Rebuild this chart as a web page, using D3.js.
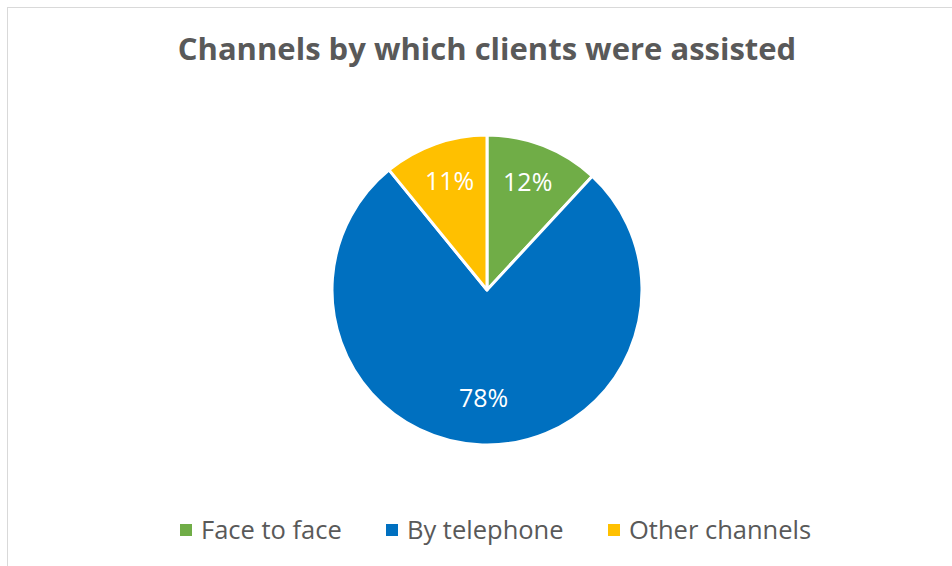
<!DOCTYPE html>
<html>
<head>
<meta charset="utf-8">
<script src="https://cdn.jsdelivr.net/npm/d3@7"></script>
<style>
  html, body { margin: 0; padding: 0; background: #fff; }
  svg { display: block; }
</style>
</head>
<body>
<svg id="chart" width="952" height="566"></svg>
<script>
// Share of clients by assistance channel (percent)
const categories = ["Face to face", "By telephone", "Other channels"];
const shares = [12, 78, 11];
const colors = ["#70AD47", "#0070C0", "#FFC000"];
const title = "Channels by which clients were assisted";

const W = 952, H = 566;
const font = "'Open Sans', Lato, sans-serif";
const svg = d3.select("#chart");

// chart area frame
svg.append("rect")
  .attr("x", 7.5).attr("y", 7.5)
  .attr("width", W + 10).attr("height", H + 10)
  .attr("fill", "#fff").attr("stroke", "#D9D9D9").attr("stroke-width", 1);

svg.append("text")
  .attr("x", 487).attr("y", 60)
  .attr("text-anchor", "middle")
  .attr("font-family", font).attr("font-weight", "bold")
  .attr("font-size", 31).attr("fill", "#595959")
  .text(title);

const cx = 487, cy = 290, R = 155;
const pie = d3.pie().sort(null).value(d => d);
const arcs = pie(shares);
const arc = d3.arc().innerRadius(0).outerRadius(R);
const labelArc = d3.arc().innerRadius(R * 0.72).outerRadius(R * 0.72);

const g = svg.append("g").attr("transform", `translate(${cx},${cy})`);
g.selectAll("path.slice").data(arcs).join("path")
  .attr("class", "slice")
  .attr("d", arc)
  .attr("fill", (d, i) => colors[i])
  .attr("stroke", "#fff").attr("stroke-width", 3).attr("stroke-linejoin", "round");

g.selectAll("text.lbl").data(arcs).join("text")
  .attr("class", "lbl")
  .attr("transform", d => `translate(${labelArc.centroid(d)})`)
  .attr("text-anchor", "middle").attr("dy", "0.2em")
  .attr("font-family", font).attr("font-size", 25).attr("fill", "#fff")
  .text(d => d.data + "%");

// legend
const legendX = [180, 386, 608];
const lg = svg.append("g");
categories.forEach((c, i) => {
  lg.append("rect")
    .attr("x", legendX[i]).attr("y", 524)
    .attr("width", 12).attr("height", 12)
    .attr("fill", colors[i]);
  lg.append("text")
    .attr("x", legendX[i] + 21).attr("y", 539)
    .attr("font-family", font).attr("font-size", 25.5).attr("fill", "#595959")
    .text(c);
});
</script>
</body>
</html>
